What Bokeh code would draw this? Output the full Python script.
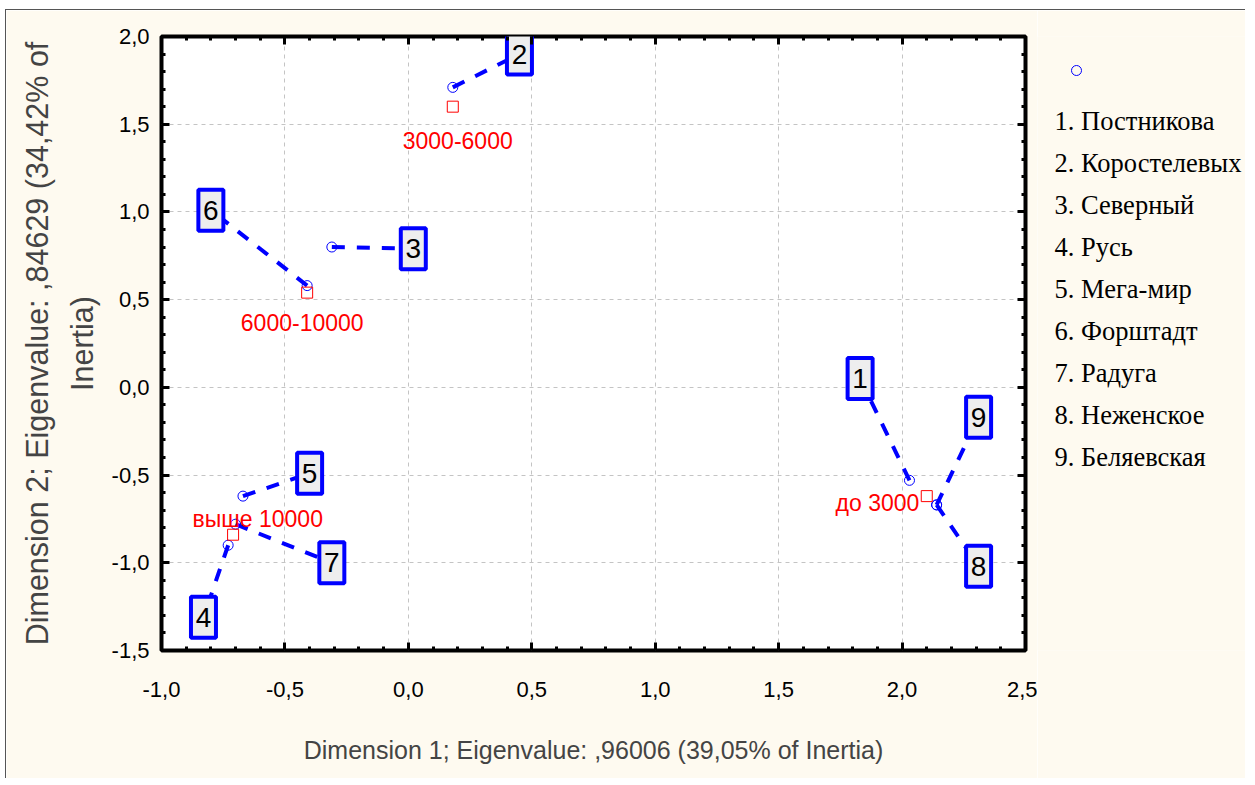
from bokeh.plotting import figure
from bokeh.layouts import row
from bokeh.models import Range1d, LinearAxis, FixedTicker, CustomJSTickFormatter, Label, ColumnDataSource
from bokeh.core.properties import value
from bokeh.embed import file_html
from bokeh.resources import INLINE

# ---------------- data ----------------
shop_names = ["Постникова", "Коростелевых", "Северный", "Русь", "Мега-мир",
              "Форштадт", "Радуга", "Неженское", "Беляевская"]
shop_nums = ["1", "2", "3", "4", "5", "6", "7", "8", "9"]
shop_x = [2.03, 0.18, -0.31, -0.73, -0.67, -0.41, -0.70, 2.14, 2.14]
shop_y = [-0.53, 1.71, 0.80, -0.90, -0.62, 0.58, -0.78, -0.67, -0.67]
# positions of the numbered tags (data units)
tag_x = [1.83, 0.45, 0.02, -0.83, -0.40, -0.80, -0.31, 2.31, 2.31]
tag_y = [0.05, 1.90, 0.79, -1.31, -0.49, 1.01, -1.00, -1.02, -0.17]

income = ["до 3000", "3000-6000", "6000-10000", "выше 10000"]
inc_x = [2.10, 0.18, -0.41, -0.71]
inc_y = [-0.62, 1.60, 0.54, -0.84]
# positions of income text labels (data units)
inc_lx = [2.07, 0.20, -0.43, -0.61]
inc_ly = [-0.66, 1.41, 0.37, -0.75]
inc_align = ["right", "center", "center", "center"]

x_ticks = [-1.0, -0.5, 0.0, 0.5, 1.0, 1.5, 2.0, 2.5]
y_ticks = [-1.5, -1.0, -0.5, 0.0, 0.5, 1.0, 1.5, 2.0]
x_minor = [round(-1.0 + 0.1 * i, 1) for i in range(36)]
y_minor = [round(-1.5 + 0.1 * i, 1) for i in range(36)]

x_title = "Dimension 1; Eigenvalue: ,96006 (39,05% of Inertia)"
y_title_1 = "Dimension 2; Eigenvalue: ,84629 (34,42% of"
y_title_2 = "Inertia)"

# ---------------- layout ----------------
CREAM = "#fefaf0"
BLUE = "#0000ff"
RED = "#ff0000"
X0, X1, Y0, Y1 = -1.0, 2.5, -1.5, 2.0
FW, FH = 864, 614
ML, MT, MR, MB = 155, 26, 12, 128
PW = ML + FW + MR
H = MT + FH + MB
LW = 208
# page position of the plot frame (row starts at page (8, 12))
ORG_X, ORG_Y = 8, 12
FRAME_TOP = ORG_Y + MT
LEG_LEFT = ORG_X + PW

p = figure(width=PW, height=H,
           x_range=Range1d(X0, X1), y_range=Range1d(Y0, Y1),
           output_backend="svg", toolbar_location=None,
           min_border_left=ML, min_border_top=MT, min_border_right=MR, min_border_bottom=MB,
           border_fill_color=CREAM, background_fill_color="white")

p.outline_line_color = "black"
p.outline_line_width = 4

fmt = CustomJSTickFormatter(code="""
const v = Math.abs(tick) < 1e-9 ? 0 : tick;
return v.toFixed(1).replace('.', ',');
""")


def style_axis(ax, ticks, minor, labels):
    ax.ticker = FixedTicker(ticks=ticks, minor_ticks=minor)
    ax.axis_line_color = None
    ax.major_tick_in = 8
    ax.major_tick_out = 0
    ax.minor_tick_in = 4
    ax.minor_tick_out = 0
    ax.major_tick_line_width = 3
    ax.minor_tick_line_width = 3
    ax.major_tick_line_color = "black"
    ax.minor_tick_line_color = "black"
    if labels:
        ax.formatter = fmt
        ax.major_label_text_font = "Liberation Sans"
        ax.major_label_text_font_size = "22px"
        ax.major_label_text_color = "black"
    else:
        ax.major_label_text_font_size = "0px"
        ax.major_label_text_color = None
        ax.major_label_standoff = 0


xa = p.xaxis[0]
ya = p.yaxis[0]
style_axis(xa, x_ticks, x_minor, True)
style_axis(ya, y_ticks, y_minor, True)
xa.major_label_standoff = 31
ya.major_label_standoff = 12

xa.axis_label = x_title
xa.axis_label_text_font = "Liberation Sans"
xa.axis_label_text_font_size = "25px"
xa.axis_label_text_font_style = "normal"
xa.axis_label_standoff = 36

ya.axis_label = y_title_2
ya.axis_label_text_font = "Liberation Sans"
ya.axis_label_text_font_size = "30.5px"
ya.axis_label_text_font_style = "normal"
ya.axis_label_standoff = 10

ya2 = LinearAxis(axis_label=y_title_1)
ya2.ticker = FixedTicker(ticks=[])
ya2.axis_line_color = None
ya2.major_tick_line_color = None
ya2.minor_tick_line_color = None
ya2.major_label_text_font_size = "0px"
ya2.axis_label_text_font = "Liberation Sans"
ya2.axis_label_text_font_size = "30.5px"
ya2.axis_label_text_font_style = "normal"
ya2.axis_label_standoff = 8
p.add_layout(ya2, "left")

top_ax = LinearAxis()
style_axis(top_ax, x_ticks, x_minor, False)
p.add_layout(top_ax, "above")
right_ax = LinearAxis()
style_axis(right_ax, y_ticks, y_minor, False)
p.add_layout(right_ax, "right")

for g, t in ((p.xgrid[0], x_ticks), (p.ygrid[0], y_ticks)):
    g.ticker = FixedTicker(ticks=t)
    g.grid_line_color = "#c4c4c4"
    g.grid_line_dash = "4 4"
    g.grid_line_width = 1

# ---------------- glyphs ----------------
shops = ColumnDataSource(dict(x=shop_x, y=shop_y, tx=tag_x, ty=tag_y, num=shop_nums))
inc = ColumnDataSource(dict(x=inc_x, y=inc_y))

p.segment(x0="x", y0="y", x1="tx", y1="ty", source=shops,
          line_color=BLUE, line_width=4, line_dash="13 12")
p.scatter(x="x", y="y", source=shops, marker="circle", size=10,
          fill_color=None, line_color=BLUE, line_width=1)
p.scatter(x="x", y="y", source=inc, marker="square", size=11,
          fill_color=None, line_color=RED, line_width=1)
p.rect(x="tx", y="ty", source=shops, width=25, height=41,
       width_units="screen", height_units="screen",
       fill_color="#eeeeee", line_color=BLUE, line_width=4)
p.text(x="tx", y="ty", text="num", source=shops,
       text_font=value("Liberation Sans"), text_font_size=value("28px"),
       text_align="center", text_baseline="middle", text_color="black")

for name, lx, ly, al in zip(income, inc_lx, inc_ly, inc_align):
    p.add_layout(Label(x=lx, y=ly, text=name, text_color=RED,
                       text_font="Liberation Sans", text_font_size="23px",
                       text_align=al, text_baseline="middle"))

# ---------------- legend panel (right side, page pixel coordinates) ----------------
# the row aligns this panel's frame with the main frame, so map page pixels onto it
leg = figure(width=LW, height=H,
             x_range=Range1d(LEG_LEFT, LEG_LEFT + LW),
             y_range=Range1d(FRAME_TOP + FH, FRAME_TOP),
             output_backend="svg", toolbar_location=None,
             x_axis_location=None, y_axis_location=None, min_border=0,
             border_fill_color=CREAM, background_fill_color=CREAM)
leg.outline_line_color = None
leg.grid.visible = False

legend_text = [f"{n}. {name}" for n, name in zip(shop_nums, shop_names)]
leg.scatter(x=[1078], y=[72], marker="circle", size=10,
            fill_color=None, line_color=BLUE, line_width=1)
leg.text(x=[1056] * len(legend_text), y=[122 + 42 * i for i in range(len(legend_text))],
         text=legend_text, text_font=value("Liberation Serif"), text_font_size=value("26.5px"),
         text_align="left", text_baseline="middle", text_color="black")

layout = row(p, leg, margin=(9, 0, 0, 5),
             styles={"border-left": "1px solid #555555", "border-top": "1px solid #555555"})

open("out.html", "w").write(file_html(layout, INLINE))
